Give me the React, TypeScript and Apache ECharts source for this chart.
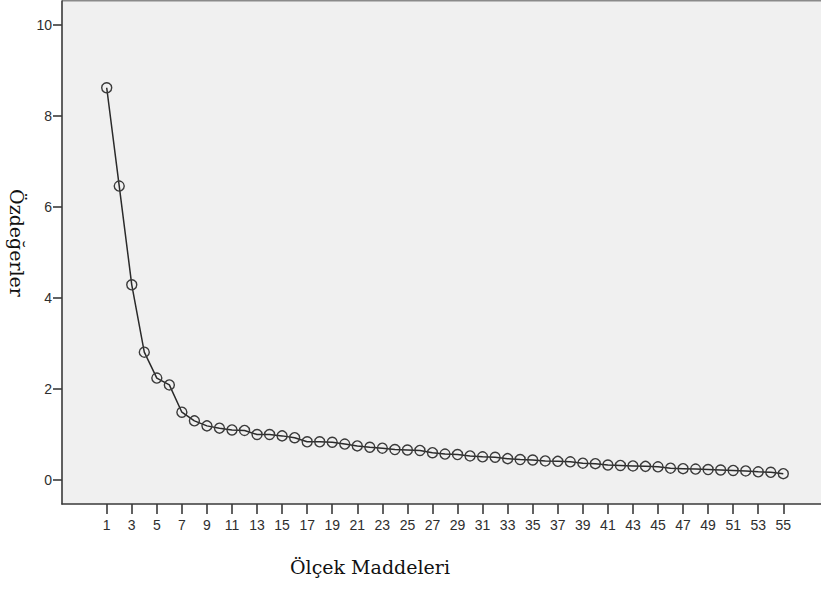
import React, { useEffect, useRef } from "react";
import * as echarts from "echarts";

const items: number[] = Array.from({ length: 55 }, (_, i) => i + 1);
const eigenvalues: number[] = [
  8.62, 6.46, 4.29, 2.81, 2.24, 2.09, 1.49, 1.3, 1.19, 1.14,
  1.1, 1.09, 1.0, 1.0, 0.97, 0.93, 0.84, 0.84, 0.83, 0.79,
  0.75, 0.72, 0.7, 0.67, 0.66, 0.65, 0.6, 0.57, 0.56, 0.53,
  0.51, 0.5, 0.47, 0.45, 0.44, 0.42, 0.41, 0.4, 0.37, 0.36,
  0.33, 0.32, 0.31, 0.3, 0.29, 0.26, 0.25, 0.24, 0.23, 0.22,
  0.21, 0.2, 0.18, 0.17, 0.14,
];
const xTickValues: number[] = [1, 3, 5, 7, 9, 11, 13, 15, 17, 19, 21, 23, 25, 27, 29, 31, 33, 35, 37, 39, 41, 43, 45, 47, 49, 51, 53, 55];
const yTickValues: number[] = [0, 2, 4, 6, 8, 10];
const xTitle = "Ölçek Maddeleri";
const yTitle = "Özdeğerler";

export default function App() {
  const ref = useRef<HTMLDivElement>(null);
  useEffect(() => {
    if (!ref.current) return;
    const chart = echarts.init(ref.current, null, { renderer: "svg" });
    const axisLineStyle = { color: "#3a3a3a", width: 1.6 };
    chart.setOption({
      animation: false,
      grid: {
        left: 62,
        top: 1,
        right: 0,
        bottom: 85,
        show: true,
        backgroundColor: "#f0f0f0",
        borderWidth: 0,
      },
      xAxis: {
        type: "value",
        min: -2.568,
        max: 58.01,
        axisLine: { show: true, onZero: false, lineStyle: axisLineStyle },
        axisTick: { show: true, length: 10, customValues: xTickValues, lineStyle: axisLineStyle },
        axisLabel: {
          customValues: xTickValues,
          margin: 14,
          fontFamily: "Liberation Sans, Arial, sans-serif",
          fontSize: 14,
          color: "#2e2e2e",
        },
        splitLine: { show: false },
      },
      yAxis: {
        type: "value",
        min: -0.527,
        max: 10.527,
        axisLine: { show: true, onZero: false, lineStyle: axisLineStyle },
        axisTick: { show: true, length: 9, customValues: yTickValues, lineStyle: axisLineStyle },
        axisLabel: {
          customValues: yTickValues,
          margin: 10,
          fontFamily: "Liberation Sans, Arial, sans-serif",
          fontSize: 14,
          color: "#2e2e2e",
        },
        splitLine: { show: false },
      },
      graphic: [
        { type: "rect", left: 62, top: 0, shape: { width: 759, height: 1.5 }, style: { fill: "#8a8a8a" } },
        {
          type: "text",
          x: 370,
          y: 567,
          style: {
            text: xTitle,
            fontFamily: "DejaVu Serif, serif",
            fontSize: 19,
            fill: "#111",
            textAlign: "center",
            textVerticalAlign: "middle",
          },
        },
        {
          type: "text",
          x: 17,
          y: 243,
          rotation: -Math.PI / 2,
          style: {
            text: yTitle,
            fontFamily: "DejaVu Serif, serif",
            fontSize: 19,
            fill: "#111",
            textAlign: "center",
            textVerticalAlign: "middle",
          },
        },
      ],
      series: [
        {
          type: "line",
          data: items.map((x, i) => [x, eigenvalues[i]]),
          symbol: "circle",
          symbolSize: 10,
          itemStyle: { color: "rgba(0,0,0,0)", borderColor: "#3a3a3a", borderWidth: 1.4 },
          lineStyle: { color: "#2a2a2a", width: 1.5 },
        },
      ],
    });
    return () => chart.dispose();
  }, []);
  return <div ref={ref} style={{ position: "absolute", left: 0, top: 0, width: 821, height: 589 }} />;
}
